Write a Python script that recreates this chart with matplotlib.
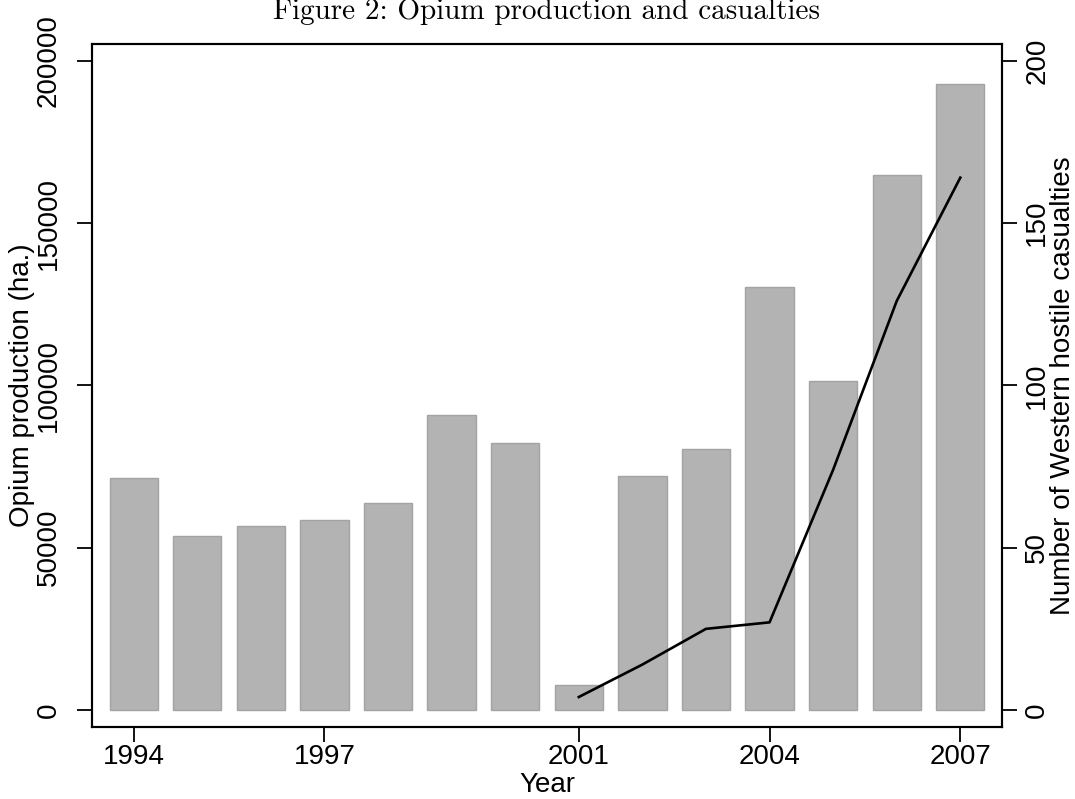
import numpy as np
import matplotlib
matplotlib.use("Agg")
import matplotlib.pyplot as plt

# data
years = [1994, 1995, 1996, 1997, 1998, 1999, 2000, 2001, 2002, 2003, 2004, 2005, 2006, 2007]
opium_ha = [71400, 53700, 56800, 58500, 63700, 90900, 82200, 7700, 72100, 80400, 130400, 101300, 164800, 192800]
cas_years = [2001, 2002, 2003, 2004, 2005, 2006, 2007]
casualties = [4, 14, 25, 27, 74, 126, 164]

xticks = [1994, 1997, 2001, 2004, 2007]
yticks_left = [0, 50000, 100000, 150000, 200000]
yticks_right = [0, 50, 100, 150, 200]

plt.rcParams['font.family'] = ['Liberation Sans', 'DejaVu Sans']

fig = plt.figure(figsize=(10.75, 7.99), dpi=100)
ax = fig.add_axes([92/1075, 1-727/799, (1002-92)/1075, (727-44)/799])
ax2 = ax.twinx()

ax.bar(years, opium_ha, width=0.76, color='#b3b3b3', edgecolor='#a3a3a3', linewidth=1.0, zorder=2)
ax2.plot(cas_years, casualties, color='black', linewidth=1.9, zorder=3)

ax.set_xlim(1993.344, 2007.656)
ax.set_ylim(-5237, 205176)
ax2.set_ylim(-5.237, 205.176)

ax.set_xticks(xticks)
ax.set_yticks(yticks_left)
ax2.set_yticks(yticks_right)
ax.set_xticklabels([str(t) for t in xticks])
ax.set_yticklabels([str(t) for t in yticks_left], rotation=90, va='center')
ax2.set_yticklabels([str(t) for t in yticks_right], rotation=90, va='center')

for a in (ax, ax2):
    a.tick_params(axis='both', labelsize=20, length=11, width=1.3, color='black')
    for s in a.spines.values():
        s.set_linewidth(1.5)
ax.tick_params(axis='x', pad=1.5)
ax.tick_params(axis='y', pad=11)
ax2.tick_params(axis='y', pad=5)

ax.set_xlabel('Year', fontsize=20, labelpad=1)
ax.set_ylabel('Opium production (ha.)', fontsize=20, labelpad=0)
ax2.set_ylabel('Number of Western hostile casualties', fontsize=20, labelpad=0)

fig.text(0.508, 1-19/799, 'Figure 2: Opium production and casualties',
         ha='center', va='baseline', fontfamily='cmr10', fontsize=21)

fig.savefig('out.png', dpi=100)
